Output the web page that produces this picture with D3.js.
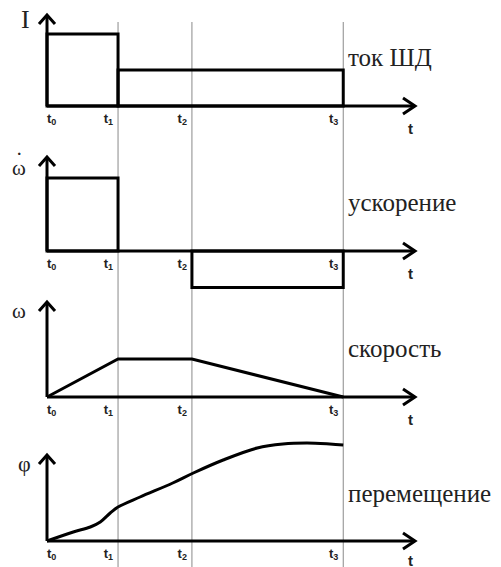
<!DOCTYPE html>
<html>
<head>
<meta charset="utf-8">
<script src="https://cdn.jsdelivr.net/npm/d3@7"></script>
<style>
	body { margin: 0; background: #fff; }
	.serif { font-family: "Liberation Serif", "DejaVu Serif", serif; fill: #222; }
	.tick { font-family: "Liberation Sans", Arial, sans-serif; font-weight: bold; fill: #222; }
</style>
</head>
<body>
<svg id="viz"></svg>
<script>
// moments on the time axis
const tickNames = ["0", "1", "2", "3"];
const tickTimes = [0, 1, 2.04, 4.17];

// levels on each interval [t0,t1], [t1,t2], [t2,t3]
const currentLevels = [1, 0.5, 0.5];
const accelLevels = [1, 0, -0.5];

// speed at t0..t3
const speedValues = [0, 1, 1, 0];

// displacement
const phiTimes = [0, 0.37, 0.61, 0.75, 0.89, 1, 1.31, 1.77, 2.06, 2.48, 2.96, 3.32, 3.66, 3.98, 4.17];
const phiValues = [0, 0.09, 0.14, 0.19, 0.28, 0.34, 0.44, 0.58, 0.68, 0.81, 0.93, 0.97, 0.98, 0.97, 0.96];

const panelNames = ["ток ШД", "ускорение", "скорость", "перемещение"];
const axisNames = ["I", "ω", "ω", "φ"];

const width = 501;
const height = 567;

const svg = d3.select("svg#viz")
	.attr("width", width)
	.attr("height", height);

svg.append("rect").attr("width", width).attr("height", height).attr("fill", "#fff");

// time scale, shared by all four plots
const x = d3.scaleLinear().domain([0, 5.18]).range([47, 415]);

// one y scale per plot (base line, top of the arrow)
const panels = [
	{ y: d3.scaleLinear().domain([0, 1]).range([106, 34]), top: 15, label: 66, nameX: 21, nameY: 28, nameSize: 26 },
	{ y: d3.scaleLinear().domain([0, 1]).range([251, 178]), top: 157, label: 211, nameX: 12, nameY: 175, nameSize: 21 },
	{ y: d3.scaleLinear().domain([0, 1]).range([397, 359]), top: 302, label: 357, nameX: 12, nameY: 318, nameSize: 21 },
	{ y: d3.scaleLinear().domain([0, 1]).range([541, 441]), top: 455, label: 502, nameX: 18, nameY: 471, nameSize: 22 }
];

// thin grey guides at t1, t2, t3
svg.append("g").attr("id", "guides")
	.selectAll("line")
	.data(tickTimes.slice(1))
	.join("line")
	.attr("x1", d => x(d)).attr("x2", d => x(d))
	.attr("y1", 22).attr("y2", height)
	.attr("stroke", "#8a8a8a")
	.attr("stroke-width", 1);

// merge equal neighbouring levels into one box
let runs = function(levels) {
	let out = [];
	levels.forEach((v, i) => {
		let last = out[out.length - 1];
		if (last && last.v === v) last.end = i + 1;
		else out.push({ v: v, start: i, end: i + 1 });
	});
	return out.filter(r => r.v !== 0);
};

panels.forEach(function(p, i) {
	const g = svg.append("g").attr("class", "panel");
	const base = p.y(0);

	drawAxes(g, p);

	if (i < 2) {
		const levels = i === 0 ? currentLevels : accelLevels;
		g.selectAll("rect.box")
			.data(runs(levels))
			.join("rect")
			.attr("class", "box")
			.attr("x", d => x(tickTimes[d.start]))
			.attr("width", d => x(tickTimes[d.end]) - x(tickTimes[d.start]))
			.attr("y", d => Math.min(p.y(d.v), base))
			.attr("height", d => Math.abs(p.y(d.v) - base))
			.attr("fill", "none")
			.attr("stroke", "#000")
			.attr("stroke-width", 3);
	} else if (i === 2) {
		const line = d3.line().x((d, j) => x(tickTimes[j])).y(d => p.y(d));
		g.append("path")
			.datum(speedValues)
			.attr("d", line)
			.attr("fill", "none")
			.attr("stroke", "#000")
			.attr("stroke-width", 3);
	} else {
		const line = d3.line()
			.x((d, j) => x(phiTimes[j]))
			.y(d => p.y(d))
			.curve(d3.curveCatmullRom.alpha(0.5));
		g.append("path")
			.datum(phiValues)
			.attr("d", line)
			.attr("fill", "none")
			.attr("stroke", "#000")
			.attr("stroke-width", 3);
	}

	// tick labels t0..t3
	const ticks = g.selectAll("text.tick")
		.data(tickTimes)
		.join("text")
		.attr("class", "tick")
		.attr("x", (d, j) => j === 0 ? x(d) : x(d) - 5)
		.attr("y", base + 17)
		.attr("text-anchor", (d, j) => j === 0 ? "start" : "end")
		.style("font-size", "13px")
		.text("t");
	ticks.append("tspan")
		.attr("dy", 2)
		.style("font-size", "9px")
		.text((d, j) => tickNames[j]);

	// "t" at the end of the time axis
	g.append("text")
		.attr("class", "tick")
		.attr("x", 408)
		.attr("y", Math.min(base + 28, height - 1))
		.style("font-size", "15px")
		.text("t");

	// plot name on the right
	g.append("text")
		.attr("class", "serif")
		.attr("x", 348)
		.attr("y", p.label)
		.style("font-size", "25px")
		.text(panelNames[i]);

	// quantity on the vertical axis
	const name = g.append("text")
		.attr("class", "serif")
		.attr("x", p.nameX)
		.attr("y", p.nameY)
		.style("font-size", p.nameSize + "px")
		.text(axisNames[i]);

	// dot over omega for the derivative
	if (i === 1) {
		name.append("tspan")
			.attr("dx", -10)
			.attr("dy", -14)
			.text("·");
	}
});

function drawAxes(g, p) {
	const base = p.y(0);
	const x0 = x(0);
	const x1 = x.range()[1];

	g.append("path")
		.attr("d", "M" + x0 + "," + base + "V" + p.top)
		.attr("stroke", "#000").attr("stroke-width", 3).attr("fill", "none");
	g.append("path")
		.attr("d", "M" + (x0 - 8) + "," + (p.top + 9) + "L" + x0 + "," + p.top + "L" + (x0 + 8) + "," + (p.top + 9))
		.attr("stroke", "#000").attr("stroke-width", 3).attr("fill", "none");

	g.append("path")
		.attr("d", "M" + x0 + "," + base + "H" + x1)
		.attr("stroke", "#000").attr("stroke-width", 3).attr("fill", "none");
	g.append("path")
		.attr("d", "M" + (x1 - 12) + "," + (base - 8) + "L" + x1 + "," + base + "L" + (x1 - 12) + "," + (base + 8))
		.attr("stroke", "#000").attr("stroke-width", 3).attr("fill", "none");
}
</script>
</body>
</html>
